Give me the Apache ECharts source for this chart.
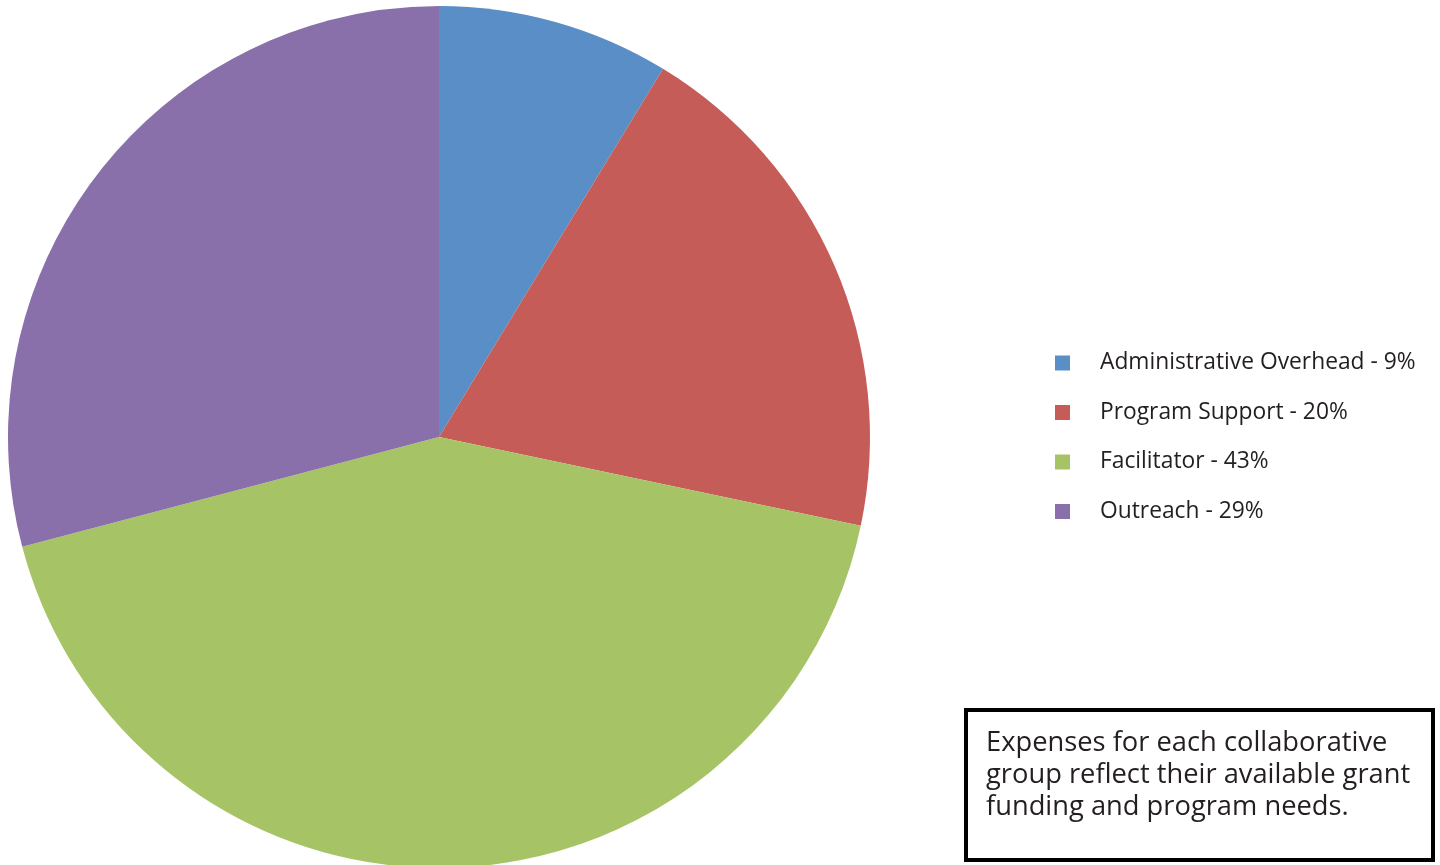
<!DOCTYPE html>
<html><head><meta charset="utf-8">
<script src="https://cdn.jsdelivr.net/npm/echarts@6/dist/echarts.min.js"></script>
<style>html,body{margin:0;padding:0;background:#fff}#c{width:1440px;height:865px}</style>
</head><body><div id="c"></div>
<script>
const categories = ['Administrative Overhead - 9%', 'Program Support - 20%', 'Facilitator - 43%', 'Outreach - 29%'];
const values = [8.7, 19.6, 42.6, 29.1];
const colors = ['#5a8ec6', '#c55c58', '#a6c366', '#8a70aa'];
const note = 'Expenses for each collaborative\ngroup reflect their available grant\nfunding and program needs.';

const chart = echarts.init(document.getElementById('c'));
chart.setOption({
  animation: false,
  color: colors,
  legend: {
    orient: 'vertical',
    left: 1055,
    top: 348,
    padding: 0,
    icon: 'rect',
    itemWidth: 15,
    itemHeight: 15,
    itemGap: 19.5,
    selectedMode: false,
    textStyle: {
      fontFamily: 'Open Sans',
      fontSize: 22.8,
      color: '#231f20',
      lineHeight: 30,
      padding: [0, 0, 0, 25]
    },
    data: categories
  },
  series: [{
    type: 'pie',
    center: [439, 437],
    radius: 431,
    startAngle: 90,
    clockwise: true,
    label: { show: false },
    labelLine: { show: false },
    itemStyle: { borderWidth: 0 },
    emphasis: { disabled: true },
    data: categories.map((n, i) => ({ name: n, value: values[i] }))
  }],
  graphic: [
    { type: 'rect', left: 964, top: 708, shape: { width: 467, height: 150 },
      style: { fill: '#fff', stroke: '#000', lineWidth: 4 } },
    { type: 'text', left: 986, top: 727,
      style: { text: note, font: '27.3px "Open Sans"', fill: '#231f20', lineHeight: 32 } }
  ]
});
</script></body></html>
